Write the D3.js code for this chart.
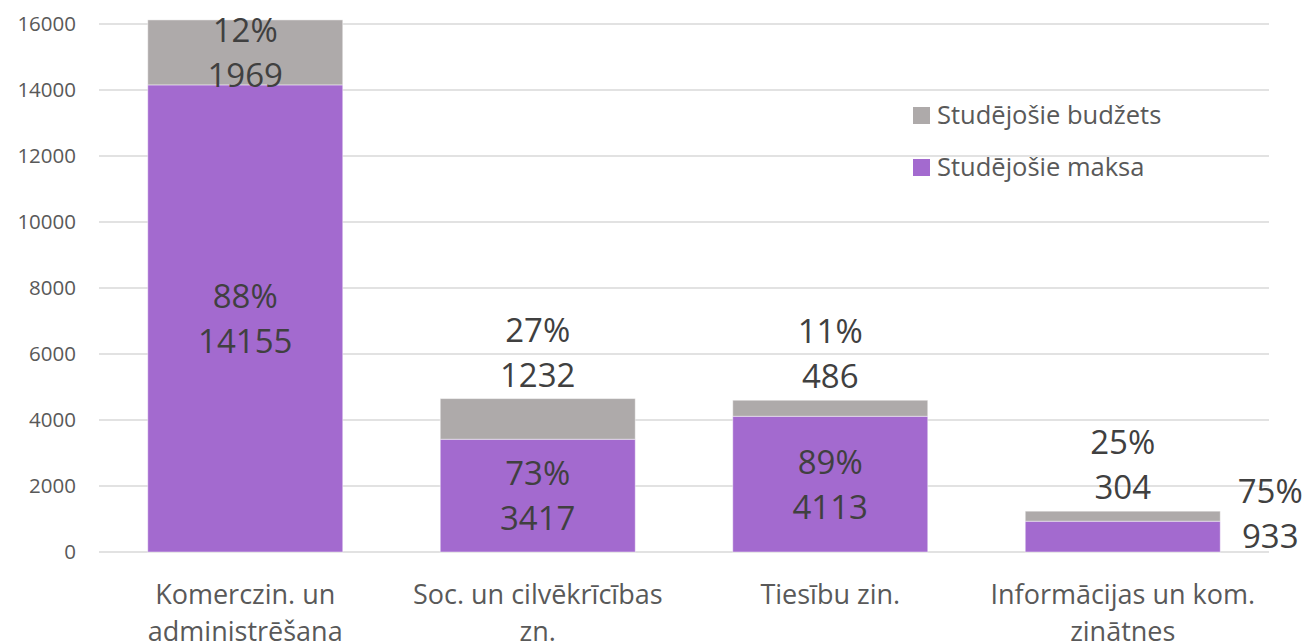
<!DOCTYPE html>
<html>
<head>
<meta charset="utf-8">
<script src="https://cdn.jsdelivr.net/npm/d3@7"></script>
<style>
  body { margin: 0; background: #fff; }
  svg text { font-family: "Open Sans", sans-serif; }
</style>
</head>
<body>
<svg id="chart" width="1306" height="644"></svg>
<script>
// data
var categories = [
  ["Komerczin. un", "administrēšana"],
  ["Soc. un cilvēkrīcības", "zn."],
  ["Tiesību zin."],
  ["Informācijas un kom.", "zinātnes"]
];
var maksa = [14155, 3417, 4113, 933];      // Studējošie maksa
var budzets = [1969, 1232, 486, 304];      // Studējošie budžets
var maksaPct = ["88%", "73%", "89%", "75%"];
var budzetsPct = ["12%", "27%", "11%", "25%"];
var yTicks = [0, 2000, 4000, 6000, 8000, 10000, 12000, 14000, 16000];
var seriesNames = ["Studējošie budžets", "Studējošie maksa"];

var colors = { maksa: "#a36acf", budzets: "#aeaaaa" };

var svg = d3.select("#chart");
var margin = { left: 99, right: 37, top: 24, bottom: 92 };
var W = 1306, H = 644;

var x = d3.scaleBand()
  .domain(d3.range(categories.length))
  .range([margin.left, W - margin.right])
  .paddingInner(1 / 3)
  .paddingOuter(1 / 6);

var y = d3.scaleLinear()
  .domain([0, 16000])
  .range([H - margin.bottom, margin.top]);

//gridlines + tick labels
svg.append("g")
  .selectAll("line")
  .data(yTicks)
  .enter().append("line")
  .attr("x1", margin.left).attr("x2", W - margin.right)
  .attr("y1", function(d) { return y(d); })
  .attr("y2", function(d) { return y(d); })
  .attr("stroke", "#d9d9d9")
  .attr("stroke-width", 1.3);

svg.append("g")
  .selectAll("text")
  .data(yTicks)
  .enter().append("text")
  .attr("x", 76)
  .attr("y", function(d) { return y(d); })
  .attr("dy", "0.36em")
  .attr("text-anchor", "end")
  .attr("fill", "#595959")
  .style("font-size", "20.5px")
  .text(function(d) { return d; });

//stacked data
var rows = categories.map(function(c, i) {
  return { i: i, maksa: maksa[i], budzets: budzets[i] };
});
var stack = d3.stack().keys(["maksa", "budzets"])(rows);

svg.append("g")
  .selectAll("g")
  .data(stack)
  .enter().append("g")
  .attr("fill", function(s) { return colors[s.key]; })
  .selectAll("rect")
  .data(function(s) { return s; })
  .enter().append("rect")
  .attr("x", function(d) { return x(d.data.i); })
  .attr("width", x.bandwidth())
  .attr("y", function(d) { return y(d[1]); })
  .attr("height", function(d) { return y(d[0]) - y(d[1]); })
  .attr("stroke", "rgba(255,255,255,0.45)")
  .attr("stroke-width", 1);

//data labels: centered when the segment is tall enough, otherwise moved out
var lineGap = 45;
var labels = svg.append("g")
  .attr("fill", "#404040")
  .style("font-size", "33px")
  .attr("text-anchor", "middle");

stack.forEach(function(s) {
  s.forEach(function(d) {
    var i = d.data.i;
    var pct = s.key == "maksa" ? maksaPct[i] : budzetsPct[i];
    var val = d.data[s.key];
    var top = y(d[1]), bot = y(d[0]);
    var cx = x(i) + x.bandwidth() / 2;
    var b2; // baseline of second line
    if (bot - top >= 50) {
      var mid = (top + bot) / 2;
      b2 = mid + lineGap / 2 + 12;
    } else if (s.key == "budzets") {
      b2 = top - 12;
    } else {
      cx = x(i) + x.bandwidth() + 50;
      b2 = bot - 4;
    }
    labels.append("text").attr("x", cx).attr("y", b2 - lineGap).text(pct);
    labels.append("text").attr("x", cx).attr("y", b2).text(val);
  });
});

//category labels
var cat = svg.append("g")
  .attr("fill", "#595959")
  .style("font-size", "27px")
  .attr("text-anchor", "middle");
categories.forEach(function(lines, i) {
  lines.forEach(function(l, k) {
    cat.append("text")
      .attr("x", x(i) + x.bandwidth() / 2)
      .attr("y", 604 + k * 37)
      .text(l);
  });
});

//legend
var leg = svg.append("g").style("font-size", "25.5px").attr("fill", "#595959");
seriesNames.forEach(function(n, k) {
  var g = leg.append("g").attr("transform", "translate(913," + (107 + k * 52) + ")");
  g.append("rect").attr("width", 17).attr("height", 17)
    .attr("fill", k == 0 ? colors.budzets : colors.maksa);
  g.append("text").attr("x", 24).attr("y", 17).text(n);
});
</script>
</body>
</html>
